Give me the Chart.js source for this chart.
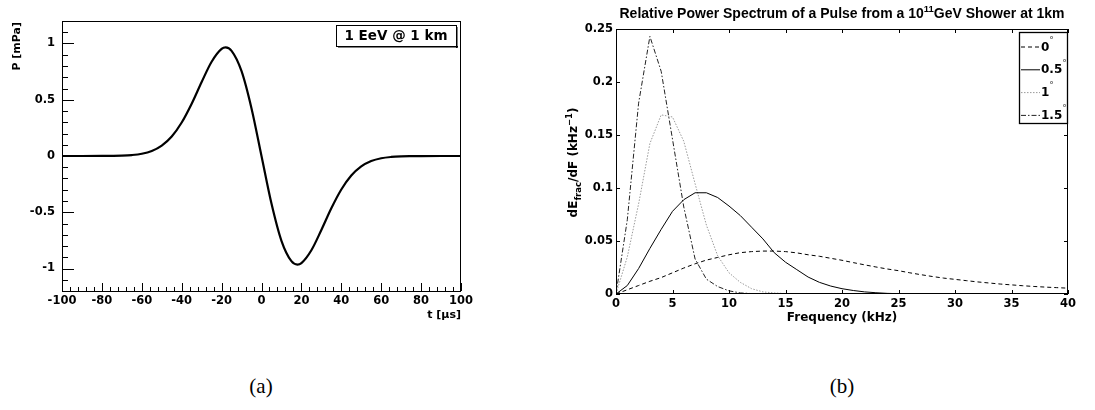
<!DOCTYPE html>
<html lang="en">
<head>
<meta charset="UTF-8">
<title>Pressure pulse and power spectrum</title>
<script src="https://cdn.jsdelivr.net/npm/chart.js"></script>
<style>
  html, body { margin: 0; padding: 0; background: #fff; }
  body { width: 1095px; height: 410px; position: relative; overflow: hidden; }
  canvas { position: absolute; top: 0; }
  #chartA { left: 0; }
  #chartB { left: 560px; }
  .caption {
    position: absolute; top: 374px; transform: translateX(-50%);
    font-family: "Liberation Serif", serif; font-size: 21px; color: #000;
  }
</style>
</head>
<body>
<canvas id="chartA" width="540" height="340"></canvas>
<canvas id="chartB" width="535" height="340"></canvas>
<div class="caption" style="left:261px">(a)</div>
<div class="caption" style="left:842px">(b)</div>

<script>
// ---- panel (a): pressure pulse, 1 EeV @ 1 km ----
const timeUs = [-100, -90, -80, -75, -70, -65, -60, -55, -50, -45, -40, -35, -30, -25, -20, -18, -15, -10, -5, 0,
                5, 10, 15, 18, 20, 25, 30, 35, 40, 45, 50, 55, 60, 65, 70, 75, 80, 90, 100];
const pressure = [0, 0, 0.0003, 0.0012, 0.0032, 0.0084, 0.020, 0.045, 0.093, 0.174, 0.298, 0.465, 0.658, 0.838, 0.952, 0.965, 0.935, 0.754, 0.423, 0,
                  -0.423, -0.754, -0.935, -0.965, -0.952, -0.838, -0.658, -0.465, -0.298, -0.174, -0.093, -0.045, -0.020, -0.0084, -0.0032, -0.0012, -0.0003, 0, 0];
const timeTicks = [-100, -80, -60, -40, -20, 0, 20, 40, 60, 80, 100];
const pressureTicks = [-1, -0.5, 0, 0.5, 1];
const pressureTickLabels = ['-1', '-0.5', '0', '0.5', '1'];

// ---- panel (b): relative power spectrum ----
const freqKHz = [0, 1, 2, 3, 4, 5, 6, 7, 8, 9, 10, 11, 12, 13, 14, 15, 16, 17, 18, 19, 20,
                 21, 22, 23, 24, 25, 26, 27, 28, 29, 30, 31, 32, 33, 34, 35, 36, 37, 38, 39, 40];
const spec0deg = [0, 0.004, 0.008, 0.012, 0.0155, 0.020, 0.0245, 0.0285, 0.032, 0.0345, 0.037, 0.039, 0.040, 0.0405, 0.0405, 0.040, 0.0388, 0.037, 0.0356, 0.0337, 0.0318,
                  0.0296, 0.0275, 0.0255, 0.0236, 0.022, 0.020, 0.0182, 0.0165, 0.015, 0.0138, 0.0126, 0.0114, 0.0104, 0.0094, 0.0086, 0.0078, 0.0071, 0.0065, 0.006, 0.0055];
const spec05deg = [0, 0.008, 0.024, 0.043, 0.061, 0.078, 0.089, 0.0955, 0.0955, 0.091, 0.083, 0.074, 0.063, 0.052, 0.039, 0.030, 0.023, 0.016, 0.011, 0.0075, 0.005,
                   0.0033, 0.002, 0.0012, 0.0006, 0.0003, 0.0002, 0.0001, 0, 0, 0, 0, 0, 0, 0, 0, 0, 0, 0, 0, 0];
const spec1deg = [0, 0.035, 0.085, 0.142, 0.169, 0.167, 0.144, 0.104, 0.065, 0.036, 0.020, 0.011, 0.005, 0.002, 0.001, 0.0004, 0.0001, 0, 0, 0, 0,
                  0, 0, 0, 0, 0, 0, 0, 0, 0, 0, 0, 0, 0, 0, 0, 0, 0, 0, 0, 0];
const spec15deg = [0, 0.07, 0.18, 0.243, 0.21, 0.146, 0.082, 0.033, 0.014, 0.007, 0.003, 0.001, 0.0004, 0.0001, 0, 0, 0, 0, 0, 0, 0,
                   0, 0, 0, 0, 0, 0, 0, 0, 0, 0, 0, 0, 0, 0, 0, 0, 0, 0, 0, 0];
const angleLabels = ['0', '0.5', '1', '1.5'];
const freqTicks = [0, 5, 10, 15, 20, 25, 30, 35, 40];
const specTicks = [0, 0.05, 0.1, 0.15, 0.2, 0.25];
const specTickLabels = ['0', '0.05', '0.1', '0.15', '0.2', '0.25'];

const BOLD = '"DejaVu Sans", sans-serif';
const HELV = '"Liberation Sans", Arial, sans-serif';

function pairs(xs, ys) {
  return xs.map((x, i) => ({ x: x, y: ys[i] }));
}

// ---------- panel (a) decorations (ROOT style frame, ticks, titles) ----------
const decorA = {
  id: 'decorA',
  afterDraw(chart) {
    const { ctx, chartArea: a, scales: { x, y } } = chart;
    ctx.save();
    ctx.strokeStyle = '#000';
    ctx.lineWidth = 1;
    ctx.strokeRect(a.left + 0.5, a.top + 0.5, a.right - a.left - 1, a.bottom - a.top);

    // x ticks along the bottom, pointing up
    ctx.beginPath();
    for (let v = -100; v <= 100; v += 4) {
      const px = Math.round(x.getPixelForValue(v)) + 0.5;
      const len = (v % 20 === 0) ? 8 : 4;
      ctx.moveTo(px, a.bottom);
      ctx.lineTo(px, a.bottom - len);
    }
    // y ticks along the left, pointing right
    for (let k = -11; k <= 11; k++) {
      const v = k / 10;
      const py = Math.round(y.getPixelForValue(v)) + 0.5;
      const len = (k % 5 === 0) ? 12 : 6;
      ctx.moveTo(a.left, py);
      ctx.lineTo(a.left + len, py);
    }
    ctx.stroke();

    // axis titles
    ctx.fillStyle = '#000';
    ctx.font = 'bold 11px ' + BOLD;
    ctx.textBaseline = 'middle';
    ctx.textAlign = 'right';
    ctx.fillText('t [\u03bcs]', a.right, 315);
    ctx.save();
    ctx.translate(17, a.top + 1);
    ctx.rotate(-Math.PI / 2);
    ctx.fillText('P [mPa]', 0, 0);
    ctx.restore();

    // label box
    const bx = 336, by = 25, bw = 120, bh = 21;
    ctx.fillStyle = '#fff';
    ctx.fillRect(bx, by, bw, bh);
    ctx.fillStyle = '#000';
    ctx.fillRect(bx + 2, by + bh, bw, 1.5);
    ctx.fillRect(bx + bw, by + 2, 1.5, bh);
    ctx.strokeRect(bx + 0.5, by + 0.5, bw, bh);
    ctx.font = 'bold 13.5px ' + BOLD;
    ctx.textAlign = 'center';
    ctx.fillText('1 EeV @ 1 km', bx + bw / 2, by + bh / 2 + 1);
    ctx.restore();
  }
};

new Chart(document.getElementById('chartA'), {
  type: 'line',
  data: {
    datasets: [{
      data: pairs(timeUs, pressure),
      borderColor: '#000',
      borderWidth: 2.2,
      pointRadius: 0,
      fill: false,
      cubicInterpolationMode: 'monotone'
    }]
  },
  options: {
    responsive: false,
    animation: false,
    layout: { padding: { left: 0, top: 21, right: 79, bottom: 0 } },
    plugins: { legend: { display: false }, tooltip: { enabled: false } },
    scales: {
      x: {
        type: 'linear', min: -100, max: 100,
        grid: { display: false, drawTicks: false },
        border: { display: false },
        afterBuildTicks: s => { s.ticks = timeTicks.map(v => ({ value: v })); },
        afterFit: s => { s.height = 49; },
        ticks: { color: '#000', padding: 3, maxRotation: 0, autoSkip: false,
                 font: { family: BOLD, size: 11.5, weight: 'bold' } }
      },
      y: {
        type: 'linear', min: -1.2, max: 1.2,
        grid: { display: false, drawTicks: false },
        border: { display: false },
        afterBuildTicks: s => { s.ticks = pressureTicks.map(v => ({ value: v })); },
        afterFit: s => { s.width = 62; },
        ticks: { color: '#000', padding: 7, autoSkip: false,
                 callback: (v, i) => pressureTickLabels[i],
                 font: { family: BOLD, size: 11.5, weight: 'bold' } }
      }
    }
  },
  plugins: [decorA]
});

// ---------- panel (b) decorations (MATLAB style box, ticks, titles, legend) ----------
const seriesStyleB = [
  { color: '#000', dash: [4, 3] },
  { color: '#000', dash: [] },
  { color: '#9a9a9a', dash: [1.5, 1.5] },
  { color: '#222', dash: [5, 2, 1.5, 2] }
];

function drawPieces(ctx, pieces, startX, baseY) {
  let cx = startX;
  pieces.forEach(p => {
    ctx.font = 'bold ' + p.size + 'px ' + (p.family || BOLD);
    ctx.fillText(p.text, cx, baseY + (p.dy || 0));
    cx += ctx.measureText(p.text).width;
  });
}
function piecesWidth(ctx, pieces) {
  let w = 0;
  pieces.forEach(p => {
    ctx.font = 'bold ' + p.size + 'px ' + (p.family || BOLD);
    w += ctx.measureText(p.text).width;
  });
  return w;
}

const decorB = {
  id: 'decorB',
  afterDraw(chart) {
    const { ctx, chartArea: a, scales: { x, y } } = chart;
    ctx.save();
    ctx.strokeStyle = '#000';
    ctx.lineWidth = 1;
    ctx.strokeRect(a.left + 0.5, a.top + 0.5, a.right - a.left - 1, a.bottom - a.top - 1);

    ctx.beginPath();
    freqTicks.forEach(v => {
      const px = Math.round(x.getPixelForValue(v)) + 0.5;
      ctx.moveTo(px, a.bottom); ctx.lineTo(px, a.bottom - 4);
      ctx.moveTo(px, a.top); ctx.lineTo(px, a.top + 4);
    });
    specTicks.forEach(v => {
      const py = Math.round(y.getPixelForValue(v)) + 0.5;
      ctx.moveTo(a.left, py); ctx.lineTo(a.left + 4, py);
      ctx.moveTo(a.right, py); ctx.lineTo(a.right - 4, py);
    });
    ctx.stroke();

    ctx.fillStyle = '#000';
    ctx.textBaseline = 'alphabetic';
    ctx.textAlign = 'left';

    // title with superscript
    const title = [
      { text: 'Relative Power Spectrum of a Pulse from a 10', size: 14, family: HELV },
      { text: '11', size: 9.5, dy: -6, family: HELV },
      { text: 'GeV Shower at 1km', size: 14, family: HELV }
    ];
    const tw = piecesWidth(ctx, title);
    drawPieces(ctx, title, (a.left + a.right) / 2 - tw / 2, 17.5);

    // x title
    ctx.font = 'bold 12px ' + BOLD;
    ctx.textAlign = 'center';
    ctx.textBaseline = 'middle';
    ctx.fillText('Frequency (kHz)', (a.left + a.right) / 2, 318);

    // y title, rotated, with subscript and superscript
    ctx.textAlign = 'left';
    ctx.textBaseline = 'alphabetic';
    const ytitle = [
      { text: 'dE', size: 12 },
      { text: 'frac', size: 8.5, dy: 4 },
      { text: '/dF (kHz', size: 12 },
      { text: '\u22121', size: 8.5, dy: -5 },
      { text: ')', size: 12 }
    ];
    const yw = piecesWidth(ctx, ytitle);
    ctx.save();
    ctx.translate(17, (a.top + a.bottom) / 2 + 1);
    ctx.rotate(-Math.PI / 2);
    drawPieces(ctx, ytitle, -yw / 2, 0);
    ctx.restore();

    // legend box
    const lx = 459, ly = 32, lw = 48, lh = 91;
    ctx.fillStyle = '#fff';
    ctx.fillRect(lx, ly, lw, lh);
    ctx.lineWidth = 1.3;
    ctx.strokeRect(lx + 0.5, ly + 0.5, lw, lh);
    ctx.lineWidth = 1;
    angleLabels.forEach((lab, i) => {
      const cy = ly + 14.5 + i * 22.8;
      const st = seriesStyleB[i];
      ctx.strokeStyle = st.color;
      ctx.setLineDash(st.dash);
      ctx.beginPath();
      ctx.moveTo(lx + 2, cy + 0.5);
      ctx.lineTo(lx + 21, cy + 0.5);
      ctx.stroke();
      ctx.setLineDash([]);
      ctx.fillStyle = '#000';
      ctx.font = 'bold 12px ' + BOLD;
      ctx.textBaseline = 'middle';
      ctx.fillText(lab, lx + 22, cy + 1);
      const w = ctx.measureText(lab).width;
      ctx.font = '9px ' + BOLD;
      ctx.fillStyle = '#333';
      ctx.fillText('\u00b0', lx + 22 + w, cy - 6);
    });
    ctx.restore();
  }
};

const specSeries = [spec0deg, spec05deg, spec1deg, spec15deg];

new Chart(document.getElementById('chartB'), {
  type: 'line',
  data: {
    datasets: specSeries.map((s, i) => ({
      label: angleLabels[i],
      data: pairs(freqKHz, s),
      borderColor: seriesStyleB[i].color,
      borderDash: seriesStyleB[i].dash,
      borderWidth: 1,
      pointRadius: 0,
      tension: 0,
      fill: false
    }))
  },
  options: {
    responsive: false,
    animation: false,
    layout: { padding: { left: 0, top: 29, right: 27, bottom: 0 } },
    plugins: { legend: { display: false }, tooltip: { enabled: false } },
    scales: {
      x: {
        type: 'linear', min: 0, max: 40,
        grid: { display: false, drawTicks: false },
        border: { display: false },
        afterBuildTicks: s => { s.ticks = freqTicks.map(v => ({ value: v })); },
        afterFit: s => { s.height = 46; },
        ticks: { color: '#000', padding: 3, maxRotation: 0, autoSkip: false,
                 font: { family: BOLD, size: 11.5, weight: 'bold' } }
      },
      y: {
        type: 'linear', min: 0, max: 0.25,
        grid: { display: false, drawTicks: false },
        border: { display: false },
        afterBuildTicks: s => { s.ticks = specTicks.map(v => ({ value: v })); },
        afterFit: s => { s.width = 56; },
        ticks: { color: '#000', padding: 3, autoSkip: false,
                 callback: (v, i) => specTickLabels[i],
                 font: { family: BOLD, size: 11.5, weight: 'bold' } }
      }
    }
  },
  plugins: [decorB]
});
</script>
</body>
</html>
